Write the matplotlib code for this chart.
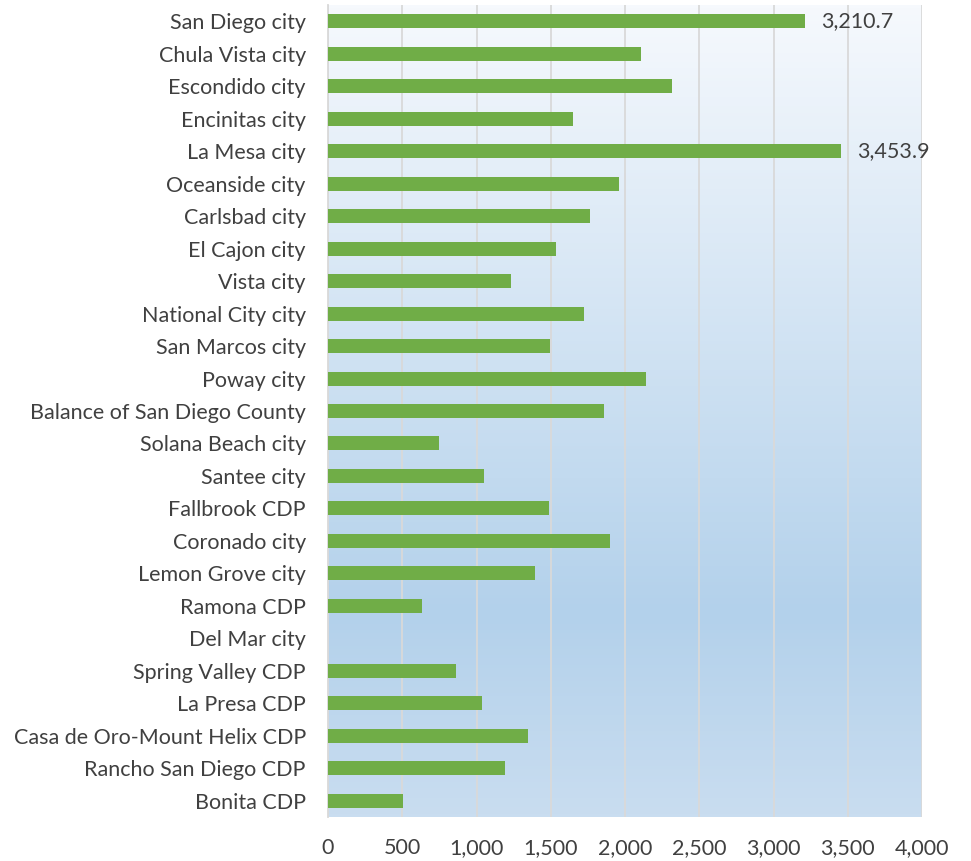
import matplotlib
matplotlib.use("Agg")
import matplotlib.pyplot as plt
import numpy as np
from matplotlib.colors import LinearSegmentedColormap

categories = ["San Diego city", "Chula Vista city", "Escondido city", "Encinitas city",
              "La Mesa city", "Oceanside city", "Carlsbad city", "El Cajon city",
              "Vista city", "National City city", "San Marcos city", "Poway city",
              "Balance of San Diego County", "Solana Beach city", "Santee city",
              "Fallbrook CDP", "Coronado city", "Lemon Grove city", "Ramona CDP",
              "Del Mar city", "Spring Valley CDP", "La Presa CDP",
              "Casa de Oro-Mount Helix CDP", "Rancho San Diego CDP", "Bonita CDP"]
values = [3210.7, 2110, 2319, 1650, 3453.9, 1959, 1762, 1534, 1232, 1724, 1494, 2142,
          1858, 747, 1049, 1485, 1901, 1391, 635, 0, 865, 1035, 1344, 1192, 507]
labeled = {"San Diego city": "3,210.7", "La Mesa city": "3,453.9"}
xticks = [0, 500, 1000, 1500, 2000, 2500, 3000, 3500, 4000]
xticklabels = ["0", "500", "1,000", "1,500", "2,000", "2,500", "3,000", "3,500", "4,000"]

plt.rcParams['font.family'] = ['Lato', 'DejaVu Sans']
fig = plt.figure(figsize=(9.71, 8.61), dpi=100)
ax = fig.add_axes([328/971, 44/861, 594/971, 812/861])

n = len(categories)
y = np.arange(n)

# background gradient
cmap = LinearSegmentedColormap.from_list("bg", [(0, "#F6F9FD"), (0.75, "#B3D1EB"), (1.0, "#C9DDF0")])
grad = np.linspace(0, 1, 256).reshape(-1, 1)
ax.imshow(grad, cmap=cmap, aspect="auto", extent=[0, 4000, n - 0.5, -0.5], zorder=0)

ax.barh(y, values, height=0.43, color="#70AD47", edgecolor="none", zorder=3)
fs = 15.5
for yi, c, v in zip(y, categories, values):
    if c in labeled:
        ax.text(v + 110, yi, labeled[c], va="center", ha="left", fontsize=fs, color="#404040", zorder=4)

ax.set_xlim(0, 4000)
ax.set_ylim(n - 0.5, -0.5)
ax.set_yticks(y)
ax.set_yticklabels(categories)
ax.set_xticks(xticks)
ax.set_xticklabels(xticklabels)
ax.tick_params(axis="y", length=0, pad=16, labelsize=fs, labelcolor="#404040")
ax.tick_params(axis="x", length=0, pad=15, labelsize=fs, labelcolor="#404040")
ax.grid(axis="x", color="#D9D9D9", linewidth=1.3, zorder=1)
ax.set_axisbelow(False)
for s in ["top", "right", "bottom"]:
    ax.spines[s].set_visible(False)
ax.spines["left"].set_color("#D9D9D9")
ax.spines["left"].set_linewidth(1.3)
ax.spines["left"].set_zorder(2)

fig.savefig("out.png", dpi=100)
